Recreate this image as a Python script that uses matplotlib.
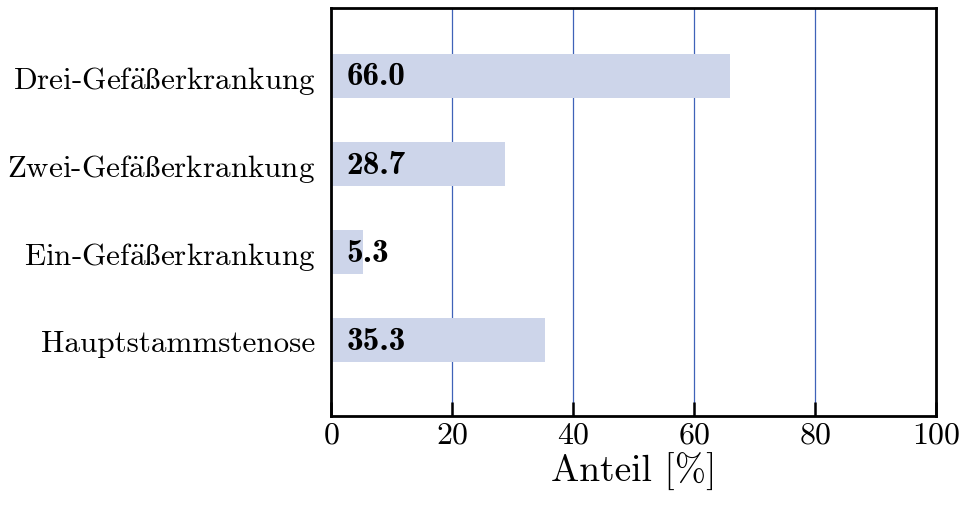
import matplotlib
matplotlib.use('Agg')
import matplotlib.pyplot as plt

plt.rcParams['font.family'] = ['cmr10', 'DejaVu Serif']
plt.rcParams['mathtext.fontset'] = 'cm'
plt.rcParams['axes.unicode_minus'] = False
plt.rcParams['axes.formatter.use_mathtext'] = True

# data
# umlaut and sharp s via mathtext so they come from the CM font
categories = [
    'Hauptstammstenose',
    r'Ein-Gef$\ddot{\rm a}{\rm \ss}$erkrankung',
    r'Zwei-Gef$\ddot{\rm a}{\rm \ss}$erkrankung',
    r'Drei-Gef$\ddot{\rm a}{\rm \ss}$erkrankung',
]
values = [35.3, 5.3, 28.7, 66.0]
xticks = [0, 20, 40, 60, 80, 100]

fig = plt.figure(figsize=(9.65, 5.06), dpi=100)
ax = fig.add_axes([0.343, 0.176, 0.627, 0.806])

ypos = range(len(categories))
ax.barh(ypos, values, height=0.5, color='#cdd5ea', zorder=2)

# value labels inside bars
for y, v in zip(ypos, values):
    ax.text(2.6, y, '%.1f' % v, va='center', ha='left',
            fontsize=24, family=['cmb10', 'DejaVu Serif'], zorder=3)

ax.set_xlim(0, 100)
ax.set_ylim(-0.86, 3.77)
ax.set_xticks(xticks)
ax.set_yticks(list(ypos))
ax.set_yticklabels(categories, fontsize=22.4)
ax.tick_params(axis='x', direction='in', length=10, width=1.8, labelsize=23, pad=4)
ax.tick_params(axis='y', length=0, pad=11)
ax.xaxis.grid(True, color='#3f62b8', linewidth=0.9, zorder=1)
ax.set_axisbelow(True)

for s in ax.spines.values():
    s.set_linewidth(2)
    s.set_color('black')

ax.set_xlabel('Anteil [%]', fontsize=27, labelpad=2)

fig.savefig('out.png', dpi=100)
